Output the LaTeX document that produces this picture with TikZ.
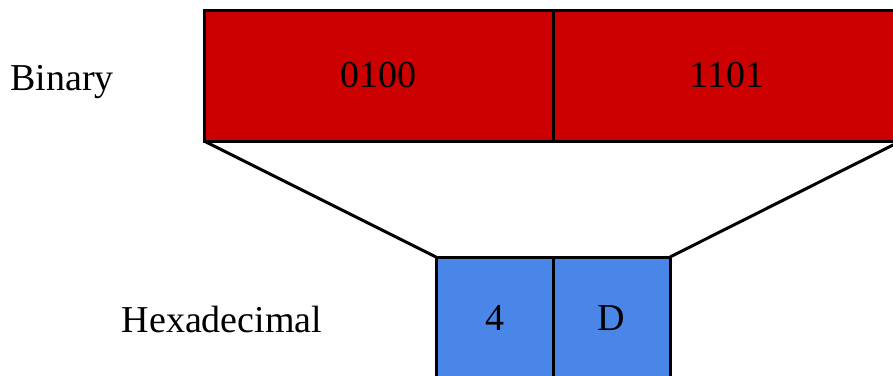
\documentclass[tikz,border=0pt]{standalone}
\usepackage{fontspec}
\setmainfont{Liberation Serif}
\definecolor{binred}{HTML}{CC0000}
\definecolor{hexblue}{HTML}{4A86E8}
\begin{document}
\begin{tikzpicture}[x=1pt,y=-1pt,
  cell/.style={draw=black, line width=3pt, inner sep=0pt, outer sep=0pt,
    font=\fontsize{38}{40}\selectfont, text=black},
  redcell/.style={cell, fill=binred, minimum height=131pt},
  bluecell/.style={cell, fill=hexblue, minimum width=117pt, minimum height=122pt},
  lbl/.style={font=\fontsize{38}{40}\selectfont, anchor=base, inner sep=0pt},
  link/.style={draw=black, line width=3pt}]
\useasboundingbox (0,0) rectangle (893,375);
\node[redcell, minimum width=349pt] (r1) at (378.5,75.5) {0100};
\node[redcell, minimum width=348pt] (r2) at (727,75.5) {1101};
\node[bluecell] (b1) at (494.5,318) {4};
\node[bluecell] (b2) at (611.5,318) {D};
\node[lbl] (binlbl) at (62,90) {Binary};
\node[lbl] (hexlbl) at (222,332) {Hexadecimal};
\draw[link] (r1.south west) -- (b1.north west);
\draw[link] (r2.south east) -- (b2.north east);
\end{tikzpicture}
\end{document}
